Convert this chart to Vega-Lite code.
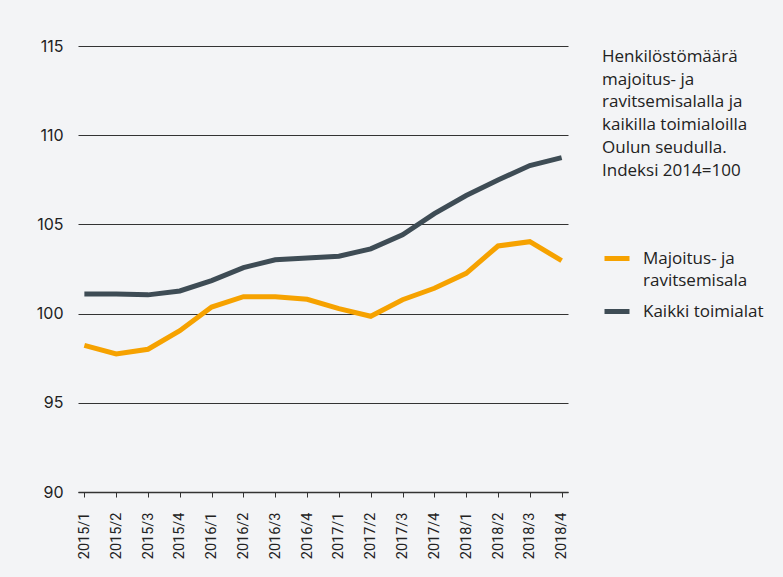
{
  "$schema": "https://vega.github.io/schema/vega-lite/v6.json",
  "width": 490,
  "height": 446,
  "autosize": {"type": "none"},
  "padding": {"left": 78, "top": 46, "right": 215, "bottom": 85},
  "background": "#f3f4f6",
  "data": {
    "values": [
      {"q": "2015/1", "s": "Majoitus- ja ravitsemisala", "v": 98.22},
      {"q": "2015/2", "s": "Majoitus- ja ravitsemisala", "v": 97.74},
      {"q": "2015/3", "s": "Majoitus- ja ravitsemisala", "v": 98.0},
      {"q": "2015/4", "s": "Majoitus- ja ravitsemisala", "v": 99.04},
      {"q": "2016/1", "s": "Majoitus- ja ravitsemisala", "v": 100.37},
      {"q": "2016/2", "s": "Majoitus- ja ravitsemisala", "v": 100.95},
      {"q": "2016/3", "s": "Majoitus- ja ravitsemisala", "v": 100.95},
      {"q": "2016/4", "s": "Majoitus- ja ravitsemisala", "v": 100.8},
      {"q": "2017/1", "s": "Majoitus- ja ravitsemisala", "v": 100.28},
      {"q": "2017/2", "s": "Majoitus- ja ravitsemisala", "v": 99.85},
      {"q": "2017/3", "s": "Majoitus- ja ravitsemisala", "v": 100.78},
      {"q": "2017/4", "s": "Majoitus- ja ravitsemisala", "v": 101.42},
      {"q": "2018/1", "s": "Majoitus- ja ravitsemisala", "v": 102.26},
      {"q": "2018/2", "s": "Majoitus- ja ravitsemisala", "v": 103.79},
      {"q": "2018/3", "s": "Majoitus- ja ravitsemisala", "v": 104.03},
      {"q": "2018/4", "s": "Majoitus- ja ravitsemisala", "v": 102.97},
      {"q": "2015/1", "s": "Kaikki toimialat", "v": 101.1},
      {"q": "2015/2", "s": "Kaikki toimialat", "v": 101.1},
      {"q": "2015/3", "s": "Kaikki toimialat", "v": 101.05},
      {"q": "2015/4", "s": "Kaikki toimialat", "v": 101.27},
      {"q": "2016/1", "s": "Kaikki toimialat", "v": 101.85},
      {"q": "2016/2", "s": "Kaikki toimialat", "v": 102.58},
      {"q": "2016/3", "s": "Kaikki toimialat", "v": 103.02},
      {"q": "2016/4", "s": "Kaikki toimialat", "v": 103.12},
      {"q": "2017/1", "s": "Kaikki toimialat", "v": 103.22},
      {"q": "2017/2", "s": "Kaikki toimialat", "v": 103.63},
      {"q": "2017/3", "s": "Kaikki toimialat", "v": 104.42},
      {"q": "2017/4", "s": "Kaikki toimialat", "v": 105.6},
      {"q": "2018/1", "s": "Kaikki toimialat", "v": 106.62},
      {"q": "2018/2", "s": "Kaikki toimialat", "v": 107.49},
      {"q": "2018/3", "s": "Kaikki toimialat", "v": 108.3},
      {"q": "2018/4", "s": "Kaikki toimialat", "v": 108.74}
    ]
  },
  "mark": {"type": "line", "strokeWidth": 5},
  "encoding": {
    "x": {
      "field": "q",
      "type": "ordinal",
      "scale": {"type": "point", "padding": 0.2},
      "axis": {
        "title": null,
        "labelAngle": -90,
        "labelFont": "Roboto",
        "labelFontSize": 14.5,
        "labelColor": "#222222",
        "labelPadding": 15,
        "tickSize": 5,
        "tickColor": "#333333",
        "domainColor": "#333333",
        "domainWidth": 1.5,
        "grid": false
      }
    },
    "y": {
      "field": "v",
      "type": "quantitative",
      "scale": {"domain": [90, 115], "nice": false, "zero": false},
      "axis": {
        "title": null,
        "values": [90, 95, 100, 105, 110, 115],
        "domain": false,
        "ticks": false,
        "labelFont": "Inter",
        "labelFontSize": 16,
        "labelColor": "#222222",
        "labelPadding": 15,
        "gridColor": "#333333",
        "gridWidth": 1
      }
    },
    "color": {
      "field": "s",
      "type": "nominal",
      "sort": ["Majoitus- ja ravitsemisala", "Kaikki toimialat"],
      "scale": {
        "domain": ["Majoitus- ja ravitsemisala", "Kaikki toimialat"],
        "range": ["#f6a200", "#3e4c55"]
      },
      "legend": {
        "orient": "right",
        "offset": 27,
        "padding": 3,
        "title": ["Henkilöstömäärä", "majoitus- ja", "ravitsemisalalla ja", "kaikilla toimialoilla", "Oulun seudulla.", "Indeksi 2014=100"],
        "titleFont": "Open Sans",
        "titleFontSize": 17,
        "titleFontWeight": "normal",
        "titleColor": "#222222",
        "titleLineHeight": 22.7,
        "titleLimit": 300,
        "titlePadding": 64,
        "symbolType": "stroke",
        "symbolSize": 625,
        "symbolStrokeWidth": 5,
        "labelFont": "Open Sans",
        "labelFontSize": 17,
        "labelColor": "#222222",
        "labelOffset": 11,
        "labelLimit": 300,
        "rowPadding": 7,
        "labelExpr": "datum.label == 'Majoitus- ja ravitsemisala' ? ['Majoitus- ja', 'ravitsemisala'] : datum.label",
        "encode": {
          "labels": {"update": {"lineHeight": {"value": 22.7}}}
        }
      }
    }
  },
  "config": {"view": {"stroke": null}}
}
